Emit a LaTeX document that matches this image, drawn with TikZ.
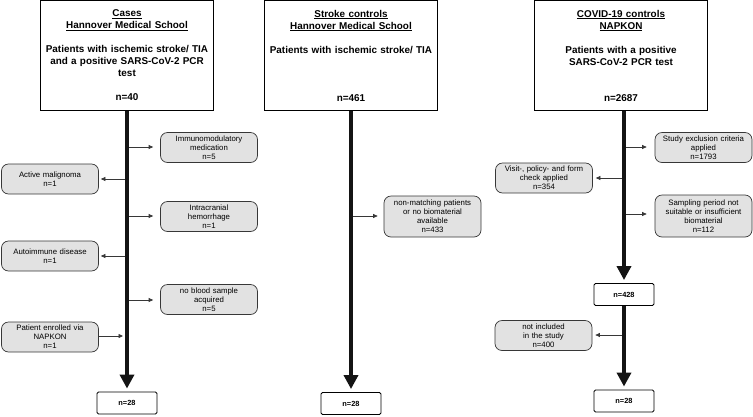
\documentclass[tikz,border=0pt]{standalone}
\usepackage{fontspec}
\setmainfont{Liberation Sans}
\usepackage{xcolor}
\usepackage{tikz}
\usetikzlibrary{shapes.geometric, arrows.meta, positioning}
\definecolor{boxgray}{RGB}{226,226,226}
\definecolor{boxline}{RGB}{55,55,55}
\definecolor{trunkcol}{RGB}{20,20,20}

\begin{document}
\begin{tikzpicture}[x=1pt, y=-1pt]
    % Define styles
    \tikzstyle{cohort} = [rectangle, draw=black, fill=white, line width=1pt, minimum width=173pt, minimum height=110pt, text width=170pt, align=center, inner sep=0pt, font=\fontsize{9.9}{12}\selectfont\bfseries]
    \tikzstyle{excl} = [rectangle, rounded corners=7pt, draw=boxline, fill=boxgray, line width=0.7pt, minimum width=96pt, minimum height=30pt, text width=95pt, align=center, inner sep=1pt, font=\fontsize{7.8}{9}\selectfont]
    \tikzstyle{count} = [rectangle, rounded corners=1.5pt, draw=black, fill=white, line width=0.9pt, minimum width=60pt, minimum height=22pt, inner sep=0pt, font=\fontsize{7.4}{8}\selectfont\bfseries]
    \tikzstyle{trunk} = [trunkcol, line width=4pt, -{Triangle[width=14pt,length=14pt]}, shorten >=3pt]
    \tikzstyle{branch} = [boxline, line width=0.7pt, -{Triangle[width=4pt,length=4.5pt]}]

    \useasboundingbox (0,0) rectangle (753,416);

    % Cases
    \node (cases) [cohort] at (127,55.5) {\underline{Cases}\\\underline{Hannover Medical School}\\[12pt]Patients with ischemic stroke/ TIA\\and a positive SARS-CoV-2 PCR\\test\\[12pt]n=40};
    \node (immun) [excl] at (209,147.5) {Immunomodulatory\\medication\\n=5};
    \node (malig) [excl] at (50,179) {Active malignoma\\n=1};
    \node (intra) [excl] at (209,216.5) {Intracranial\\hemorrhage\\n=1};
    \node (autoim) [excl] at (50,256) {Autoimmune disease\\n=1};
    \node (blood) [excl] at (209,299.5) {no blood sample\\acquired\\n=5};
    \node (enrol) [excl] at (50,337) {Patient enrolled via\\NAPKON\\n=1};
    \node (casesend) [count] at (127,403) {n=28};

    % Stroke controls
    \node (stroke) [cohort] at (351,55.5) {\underline{Stroke controls}\\\underline{Hannover Medical School}\\[12pt]Patients with ischemic stroke/ TIA\\[36pt]n=461};
    \node (nomatch) [excl, minimum height=41pt] at (432.5,216.5) {non-matching patients\\or no biomaterial\\available\\n=433};
    \node (strokeend) [count] at (351,403.5) {n=28};

    % COVID-19 controls
    \node (covid) [cohort] at (621,55.5) {\underline{COVID-19 controls}\\\underline{NAPKON}\\[12pt]Patients with a positive\\SARS-CoV-2 PCR test\\[24pt]n=2687};
    \node (study) [excl] at (703.5,147.5) {Study exclusion criteria\\applied\\n=1793};
    \node (visit) [excl] at (544,178) {Visit-, policy- and form\\check applied\\n=354};
    \node (sampl) [excl, minimum height=42pt] at (703.5,216) {Sampling period not\\suitable or insufficient\\biomaterial\\n=112};
    \node (mid428) [count] at (624,294.5) {n=428};
    \node (notin) [excl] at (543.5,335.5) {not included\\in the study\\n=400};
    \node (covidend) [count] at (624,401) {n=28};

    % Branch points
    \coordinate (ca1) at (127,147);
    \coordinate (ca2) at (127,179);
    \coordinate (ca3) at (127,216);
    \coordinate (ca4) at (127,256);
    \coordinate (ca5) at (127,300);
    \coordinate (ca6) at (127,336);
    \coordinate (st1) at (351,216);
    \coordinate (co1) at (624,147);
    \coordinate (co2) at (624,178);
    \coordinate (co3) at (624,214);
    \coordinate (co4) at (624,335);

    % Arrows
    \draw [branch, shorten >=7pt] (ca1) -- (ca1 -| immun.west);
    \draw [branch, shorten >=2pt] (ca2) -- (ca2 -| malig.east);
    \draw [branch, shorten >=7pt] (ca3) -- (ca3 -| intra.west);
    \draw [branch, shorten >=2pt] (ca4) -- (ca4 -| autoim.east);
    \draw [branch, shorten >=7pt] (ca5) -- (ca5 -| blood.west);
    \draw [branch, shorten >=4pt] (ca6 -| enrol.east) -- (ca6);
    \draw [branch, shorten >=6pt] (st1) -- (st1 -| nomatch.west);
    \draw [branch, shorten >=8pt] (co1) -- (co1 -| study.west);
    \draw [branch, shorten >=3pt] (co2) -- (co2 -| visit.east);
    \draw [branch, shorten >=8pt] (co3) -- (co3 -| sampl.west);
    \draw [branch, shorten >=3pt] (co4) -- (co4 -| notin.east);

    \draw [trunk] (cases) -- (casesend);
    \draw [trunk] (stroke) -- (strokeend);
    \draw [trunk] (covid.south -| mid428) -- (mid428);
    \draw [trunk] (mid428) -- (covidend);
\end{tikzpicture}
\end{document}
